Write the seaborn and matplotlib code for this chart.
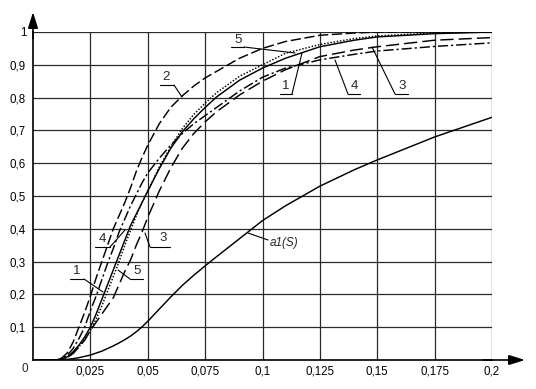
import numpy as np
import pandas as pd
import matplotlib
matplotlib.use("Agg")
import matplotlib.pyplot as plt
import seaborn as sns

# ---- data ----
s = [0, 0.01, 0.0125, 0.015, 0.0175, 0.02, 0.0225, 0.025, 0.0275, 0.03, 0.0325,
     0.035, 0.0375, 0.04, 0.0425, 0.045, 0.0475, 0.05, 0.055, 0.06, 0.065, 0.07,
     0.075, 0.08, 0.09, 0.1, 0.11, 0.125, 0.14, 0.15, 0.175, 0.2]

curve1 = [0, 0, 0.003, 0.01, 0.025, 0.045, 0.07, 0.1, 0.14, 0.185, 0.23,
          0.275, 0.32, 0.365, 0.41, 0.445, 0.48, 0.515, 0.583, 0.645, 0.695, 0.735,
          0.77, 0.802, 0.853, 0.89, 0.92, 0.955, 0.975, 0.985, 0.995, 1.0]
curve2 = [0, 0, 0.006, 0.022, 0.055, 0.1, 0.145, 0.195, 0.25, 0.3, 0.35,
          0.4, 0.44, 0.48, 0.525, 0.575, 0.617, 0.655, 0.72, 0.77, 0.805, 0.835,
          0.86, 0.88, 0.92, 0.95, 0.971, 0.99, 0.997, 1.0, 1.0, 1.0]
curve3 = [0, 0, 0.002, 0.008, 0.02, 0.04, 0.06, 0.09, 0.115, 0.14, 0.165,
          0.19, 0.23, 0.27, 0.305, 0.35, 0.39, 0.435, 0.515, 0.585, 0.645, 0.69,
          0.726, 0.757, 0.808, 0.85, 0.885, 0.925, 0.945, 0.955, 0.975, 0.983]
curve4 = [0, 0, 0.004, 0.015, 0.035, 0.065, 0.1, 0.15, 0.195, 0.245, 0.295,
          0.34, 0.39, 0.43, 0.47, 0.505, 0.54, 0.57, 0.615, 0.655, 0.69, 0.72,
          0.745, 0.77, 0.82, 0.862, 0.89, 0.915, 0.932, 0.942, 0.956, 0.967]
curve5 = [0, 0, 0.002, 0.008, 0.02, 0.04, 0.062, 0.09, 0.125, 0.165, 0.21,
          0.255, 0.3, 0.35, 0.395, 0.44, 0.48, 0.515, 0.588, 0.65, 0.705, 0.748,
          0.783, 0.815, 0.865, 0.9, 0.935, 0.962, 0.98, 0.988, 0.997, 1.0]
a1 = [0, 0, 0.001, 0.002, 0.004, 0.007, 0.011, 0.015, 0.021, 0.027, 0.035,
      0.043, 0.052, 0.062, 0.073, 0.086, 0.101, 0.118, 0.155, 0.192, 0.227, 0.258,
      0.287, 0.315, 0.37, 0.425, 0.47, 0.53, 0.58, 0.61, 0.68, 0.74]

x_ticks = [0.025, 0.05, 0.075, 0.1, 0.125, 0.15, 0.175, 0.2]
x_tick_labels = ["0,025", "0,05", "0,075", "0,1", "0,125", "0,15", "0,175", "0,2"]
y_ticks = [0.1, 0.2, 0.3, 0.4, 0.5, 0.6, 0.7, 0.8, 0.9, 1.0]
y_tick_labels = ["0,1", "0,2", "0,3", "0,4", "0,5", "0,6", "0,7", "0,8", "0,9", "1"]

series = {"1": curve1, "2": curve2, "3": curve3, "4": curve4, "5": curve5, "a1": a1}
df = pd.concat([pd.DataFrame({"S": s, "v": v, "curve": k}) for k, v in series.items()],
               ignore_index=True)

# ---- style ----
sns.set_theme(style="white")
plt.rcParams["font.family"] = ["Liberation Sans", "DejaVu Sans"]

W, H = 536, 389
fig = plt.figure(figsize=(W / 100, H / 100), dpi=100)
x0p, x1p, y0p, y1p = 33, 492, 360, 32
ax = fig.add_axes([x0p / W, (H - y0p) / H, (x1p - x0p) / W, (y0p - y1p) / H])

dashes = {"1": "", "2": (7, 2.5), "3": (9, 3.5), "4": (7, 2, 1.5, 2),
          "5": (1, 1.2), "a1": ""}
sns.lineplot(data=df, x="S", y="v", style="curve", dashes=dashes, color="black",
             linewidth=1.05, estimator=None, sort=False, legend=False, ax=ax)

ax.set_xlim(0, 0.2)
ax.set_ylim(0, 1)
ax.set_xticks(x_ticks)
ax.set_xticklabels(x_tick_labels)
ax.set_yticks(y_ticks)
ax.set_yticklabels(y_tick_labels)
ax.tick_params(length=0, labelsize=8.3, colors="black")
ax.tick_params(axis="x", pad=4)
ax.tick_params(axis="y", pad=5)
ax.set_xlabel("")
ax.set_ylabel("")
ax.grid(True, color="#2a2a2a", linewidth=0.9)
for sp in ["top", "right"]:
    ax.spines[sp].set_visible(False)
for sp in ["left", "bottom"]:
    ax.spines[sp].set_color("black")
    ax.spines[sp].set_linewidth(1.2)

# axis arrows
xa = (525 - x0p) / (x1p - x0p)
ya = (y0p - 12) / (y0p - y1p)
ax.annotate("", xy=(xa, 0), xytext=(0.98, 0), xycoords="axes fraction",
            arrowprops=dict(arrowstyle="-|>,head_length=0.8,head_width=0.25",
                            color="black", lw=1.2, shrinkA=0, shrinkB=0))
ax.annotate("", xy=(0, ya), xytext=(0, 0.98), xycoords="axes fraction",
            arrowprops=dict(arrowstyle="-|>,head_length=0.8,head_width=0.25",
                            color="black", lw=1.2, shrinkA=0, shrinkB=0))
fig.text(25 / W, 1 - 369 / H, "0", ha="center", va="center", fontsize=8.5)


def d(px, py):
    return ((px - x0p) / 2295.0, (y0p - py) / 328.0)


labels = [
    ("5", (238, 40), (231, 244, 47), (244, 47), (295, 53)),
    ("2", (166, 77), (160, 174, 85), (174, 85), (182, 97)),
    ("1", (286, 86), (280, 292, 94), (292, 94), (302, 53)),
    ("4", (354, 86), (348, 360, 94), (348, 94), (335, 60)),
    ("3", (402, 86), (395, 408, 94), (395, 94), (372, 47)),
    ("4", (102, 239), (95, 110, 247), (110, 247), (125, 230)),
    ("1", (77, 271), (70, 84, 279), (84, 279), (103, 292)),
    ("5", (137, 271), (130, 143, 279), (130, 279), (118, 270)),
    ("3", (163, 238), (150, 170, 247), (150, 247), (145, 233)),
]
for txt, tp, ul, la, lb in labels:
    tx, ty = d(*tp)
    ax.text(tx, ty, txt, ha="center", va="center", fontsize=9.5, clip_on=False)
    u0 = d(ul[0], ul[2]); u1 = d(ul[1], ul[2])
    ax.plot([u0[0], u1[0]], [u0[1], u1[1]], color="black", lw=0.8, clip_on=False)
    p0 = d(*la); p1 = d(*lb)
    ax.plot([p0[0], p1[0]], [p0[1], p1[1]], color="black", lw=0.8, clip_on=False)

p0 = d(248, 233); p1 = d(268, 240)
ax.plot([p0[0], p1[0]], [p0[1], p1[1]], color="black", lw=0.8)
tx, ty = d(270, 243)
ax.text(tx, ty, "a1(S)", ha="left", va="center", fontsize=8.5, style="italic")

fig.savefig("out.png", dpi=100)
